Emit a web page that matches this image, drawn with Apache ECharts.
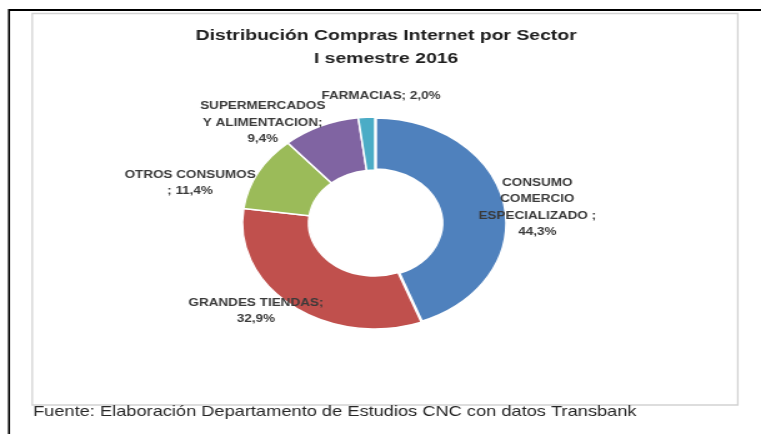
<!DOCTYPE html>
<html>
<head>
<meta charset="utf-8">
<script src="https://cdn.jsdelivr.net/npm/echarts@6/dist/echarts.min.js"></script>
<style>
  html, body { margin: 0; padding: 0; background: #fff; overflow: hidden; }
  #chart { width: 609px; height: 434px; transform: scaleX(1.2496); transform-origin: 0 0; }
</style>
</head>
<body>
<div id="chart"></div>
<script>
// ---- data ----
const categories = ['CONSUMO COMERCIO ESPECIALIZADO', 'GRANDES TIENDAS', 'OTROS CONSUMOS', 'SUPERMERCADOS Y ALIMENTACION', 'FARMACIAS'];
const shares = [44.3, 32.9, 11.4, 9.4, 2.0];
const labelTexts = ['CONSUMO\nCOMERCIO\nESPECIALIZADO ;\n', 'GRANDES TIENDAS;\n', 'OTROS CONSUMOS\n; ', 'SUPERMERCADOS\nY ALIMENTACION;\n', 'FARMACIAS; '];
const titleText = 'Distribución Compras Internet por Sector\nI semestre 2016';
const footerText = 'Fuente: Elaboración Departamento de Estudios CNC con datos Transbank';

// ---- style / layout ----
const colors = ['#4F81BD', '#C0504D', '#9BBB59', '#8064A2', '#4BACC6'];
const borderWidths = [3.5, 1.5, 1.5, 1.5, 1.5];
const CX = 300, CY = 223, R0 = 53, R = 106;
// label placement: [radius factor, angular shift in degrees] relative to slice mid angle
const labelPlacement = [[1.235, -3.5], [1.222, -8.6], [1.445, 13.3], [1.27, 17.7], [1.2, -5.8]];

const total = shares.reduce((a, b) => a + b, 0);
function fmt(v) { return v.toFixed(1).replace('.', ',') + '%'; }

const chart = echarts.init(document.getElementById('chart'), null, { renderer: 'canvas' });
chart.setOption({
  animation: false,
  title: {
    text: titleText,
    left: 309,
    top: 24,
    textAlign: 'center',
    padding: 0,
    textStyle: { fontFamily: 'Liberation Sans', fontWeight: 'bold', fontSize: 15.5, lineHeight: 23, color: '#1e1e1e' }
  },
  graphic: [
    { type: 'line', shape: { x1: 7.2, y1: 10, x2: 609, y2: 10 }, style: { stroke: '#000', lineWidth: 2 }, z: 10 },
    { type: 'line', shape: { x1: 7.2, y1: 9, x2: 7.2, y2: 434 }, style: { stroke: '#000', lineWidth: 1.6 }, z: 10 },
    { type: 'rect', shape: { x: 25.8, y: 13.5, width: 564.6, height: 391.5 }, style: { fill: 'none', stroke: '#d2d2d2', lineWidth: 1.3 }, z: 0 },
    { type: 'text', left: 26.4, top: 404.5, style: { text: footerText, fontFamily: 'Liberation Sans', fontSize: 14.6, fill: '#262626' }, z: 10 }
  ],
  series: [{
    type: 'pie',
    center: [CX, CY],
    radius: [R0, R],
    startAngle: 90,
    clockwise: true,
    avoidLabelOverlap: false,
    label: {
      show: true,
      position: 'outside',
      fontFamily: 'Liberation Sans',
      fontWeight: 'bold',
      fontSize: 10.8,
      lineHeight: 16.5,
      color: '#3a3a3a',
      formatter: p => labelTexts[p.dataIndex] + fmt(p.value)
    },
    labelLine: { show: false },
    labelLayout: function (params) {
      const i = params.dataIndex;
      let start = 0;
      for (let k = 0; k < i; k++) start += shares[k];
      const mid = (start + shares[i] / 2) / total * 360;
      const a = (90 - mid + labelPlacement[i][1]) * Math.PI / 180;
      const r = R * labelPlacement[i][0];
      return { x: CX + r * Math.cos(a), y: CY - r * Math.sin(a), align: 'center', verticalAlign: 'middle' };
    },
    emphasis: { disabled: true },
    data: categories.map((c, i) => ({
      name: c, value: shares[i],
      itemStyle: { color: colors[i], borderColor: '#fff', borderWidth: borderWidths[i] }
    }))
  }]
});
</script>
</body>
</html>
